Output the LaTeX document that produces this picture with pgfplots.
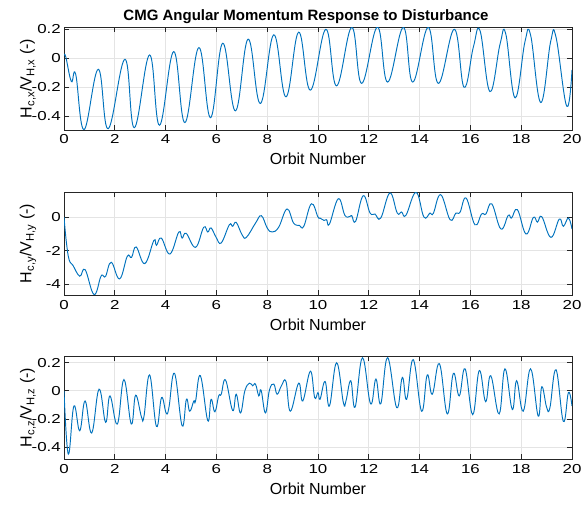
\documentclass[border=0pt]{standalone}
\usepackage{fontspec}
\setmainfont{Liberation Sans}
\newfontfamily\tickfont{Liberation Sans}[FakeStretch=1.3]
\usepackage{pgfplots}
\pgfplotsset{compat=1.18}
\definecolor{mblue}{RGB}{0,114,189}
\definecolor{maxis}{RGB}{38,38,38}
\definecolor{mgrid}{RGB}{228,228,228}
\pgfplotsset{
  mline/.style={color=mblue, line width=0.95bp, smooth, tension=0.7, mark=none},
  mstyle/.style={
    scale only axis, width=508bp, height=103bp,
    xmin=0, xmax=20, xtick={0,2,...,20},
    axis line style={maxis, line width=0.8bp},
    tick style={maxis, line width=0.8bp},
    tick align=inside, major tick length=5bp,
    xtick pos=both, ytick pos=both,
    xticklabel pos=lower, yticklabel pos=left,
    grid=major, major grid style={mgrid, line width=0.8bp},
    /pgf/number format/assume math mode=true,
    ticklabel style={font=\tickfont\fontsize{13bp}{13bp}\selectfont, text=black},
    xticklabel style={anchor=base, inner sep=0pt, yshift=-14bp},
    yticklabel style={anchor=east, inner sep=0pt, xshift=-3bp},
    label style={font=\fontsize{16bp}{16bp}\selectfont},
    xlabel style={at={(axis description cs:0.5,0)}, anchor=base, inner sep=0pt, yshift=-35bp},
    ylabel style={at={(axis description cs:-0.071,0.5)}, anchor=center, inner sep=0pt},
    xlabel={Orbit Number},
  }
}
\begin{document}
\begin{tikzpicture}
\useasboundingbox (-64bp,27bp) rectangle (517bp,-480bp);
\node[font=\bfseries\fontsize{15bp}{15bp}\selectfont, anchor=base] at (242bp,7bp) {CMG Angular Momentum Response to Disturbance};
\begin{axis}[mstyle, at={(0,0)}, anchor=north west,
  ymin=-0.495, ymax=0.216, ytick={-0.4,-0.2,0,0.2},
  ylabel={H\textsubscript{c,x}/V\textsubscript{H,x} (-)}]
\addplot[mline] coordinates {
(0,0.02) (0.07,0.01) (0.29,-0.16) (0.46,-0.11) (0.79,-0.492)
(1.35,-0.076) (1.74,-0.486) (2.40,-0.007) (2.77,-0.479)
(3.37,0.023) (3.76,-0.462) (4.32,0.046) (4.76,-0.444)
(5.31,0.074) (5.77,-0.41) (6.25,0.104) (6.75,-0.363)
(7.25,0.132) (7.73,-0.312) (8.26,0.162) (8.74,-0.266)
(9.24,0.18) (9.70,-0.22) (10.31,0.20) (10.73,-0.19)
(11.33,0.213) (11.72,-0.173) (12.34,0.215) (12.74,-0.164)
(13.36,0.213) (13.73,-0.164) (14.34,0.213) (14.74,-0.173)
(15.37,0.20) (15.75,-0.20) (16.12,0.08) (16.38,0.19)
(16.77,-0.23) (17.17,0.10) (17.39,0.17) (17.76,-0.273)
(18.15,0.116) (18.37,0.16) (18.77,-0.305) (19.16,0.116)
(19.37,0.146) (19.79,-0.33) (20,-0.08)
};
\end{axis}
\begin{axis}[mstyle, at={(0,-165bp)}, anchor=north west,
  ymin=-4.64, ymax=1.49, ytick={-4,-2,0},
  ylabel={H\textsubscript{c,y}/V\textsubscript{H,y} (-)}]
\addplot[mline] coordinates {
(0,0) (0.09,-1.45) (0.2,-2.53) (0.35,-2.87) (0.62,-3.52) (0.83,-3.13)
(1.18,-4.61) (1.44,-3.58) (1.53,-3.47) (1.64,-3.52) (1.86,-2.69)
(2.19,-3.68) (2.49,-2.34) (2.66,-2.40) (2.84,-1.78) (3.18,-2.77)
(3.54,-1.39) (3.64,-1.68) (3.83,-1.25) (4.17,-2.20) (4.52,-0.89)
(4.65,-1.25) (4.81,-0.97) (5.18,-1.80) (5.50,-0.61) (5.66,-0.89)
(5.79,-0.65) (5.99,-1.21) (6.19,-1.54) (6.51,-0.46) (6.64,-0.55)
(6.78,-0.32) (7.01,-1.05) (7.18,-1.21) (7.54,-0.36) (7.77,0.08)
(8.0,-0.65) (8.19,-0.89) (8.45,-0.61) (8.78,0.48) (9.04,-0.36)
(9.27,-0.50) (9.44,-0.55) (9.74,0.79) (10,0) (10.08,-0.06)
(10.24,-0.2) (10.34,-0.16) (10.45,-0.42) (10.8,1.09) (11.06,0.1)
(11.26,0.04) (11.33,0.08) (11.48,-0.26) (11.78,1.27) (12.05,0.24)
(12.24,0.18) (12.47,-0.06) (12.83,1.43) (13.12,0.24) (13.29,0.3)
(13.46,0.1) (13.86,1.47) (14.17,0) (14.41,0.24) (14.54,0.22)
(14.83,1.33) (15.2,-0.16) (15.43,0.24) (15.59,0.28) (15.83,1.13)
(16.18,-0.46) (16.44,0.18) (16.61,0.18) (16.84,0.79) (17.2,-0.71)
(17.49,0.1) (17.62,-0.06) (17.85,0.44) (18.19,-1.01) (18.48,-0.02)
(18.64,-0.3) (18.81,0.02) (19.17,-1.21) (19.5,-0.12) (19.66,-0.55)
(19.86,-0.06) (20,-0.71)
};
\end{axis}
\begin{axis}[mstyle, at={(0,-329bp)}, anchor=north west,
  ymin=-0.485, ymax=0.248, ytick={-0.4,-0.2,0,0.2},
  ylabel={H\textsubscript{c,z}/V\textsubscript{H,z} (-)}]
\addplot[mline] coordinates {
(0,0) (0.17,-0.45) (0.39,-0.108) (0.62,-0.284) (0.83,-0.072)
(1.09,-0.30) (1.38,0.012) (1.64,-0.224) (1.81,-0.036) (2.10,-0.236)
(2.36,0.08) (2.65,-0.236) (2.82,-0.031) (3.05,-0.186) (3.15,-0.18)
(3.37,0.113) (3.64,-0.253) (3.84,-0.048) (4.02,-0.157) (4.13,-0.12)
(4.35,0.125) (4.65,-0.248) (4.82,-0.06) (4.95,-0.145) (5.11,-0.072)
(5.18,-0.072) (5.37,0.108) (5.66,-0.212) (5.79,-0.06) (5.94,-0.149)
(6.09,-0.036) (6.19,-0.024) (6.36,0.077) (6.64,-0.14) (6.78,-0.024)
(6.95,-0.157) (7.12,0) (7.30,0.055) (7.43,0.036) (7.54,0.048)
(7.67,-0.036) (7.76,0.005) (7.93,-0.157) (8.09,0.007) (8.26,0.048)
(8.39,-0.024) (8.56,0.036) (8.74,0.067) (8.91,-0.145) (9.24,0.055)
(9.40,-0.072) (9.70,0.14) (9.87,-0.048) (10,-0.012) (10.08,-0.06)
(10.28,0.067) (10.45,-0.108) (10.73,0.2) (11.0,-0.084) (11.1,-0.072)
(11.29,0.072) (11.46,-0.116) (11.75,0.236) (12.07,-0.092) (12.28,0.084)
(12.47,-0.092) (12.74,0.236) (13.10,-0.12) (13.32,0.096) (13.49,-0.06)
(13.75,0.222) (14.08,-0.145) (14.30,0.113) (14.50,-0.024) (14.78,0.193)
(15.09,-0.164) (15.33,0.125) (15.56,-0.036) (15.79,0.157) (16.09,-0.169)
(16.35,0.145) (16.60,-0.077) (16.80,0.108) (17.13,-0.164) (17.36,0.157)
(17.65,-0.133) (17.82,0.072) (18.08,-0.145) (18.37,0.157) (18.67,-0.18)
(18.81,0.029) (19.00,-0.116) (19.13,-0.12) (19.37,0.15) (19.66,-0.217)
(19.86,-0.012) (20,-0.108)
};
\end{axis}
\end{tikzpicture}
\end{document}
